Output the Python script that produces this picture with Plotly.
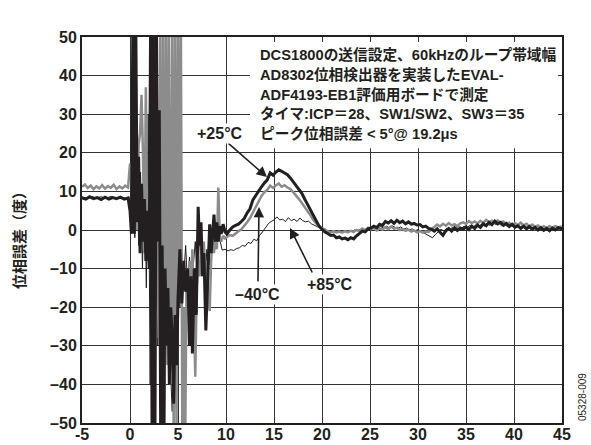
import plotly.graph_objects as go

# ---------------- data ----------------
t_25 = [-5.0, -4.6, -4.2, -3.8, -3.4, -3.0, -2.6, -2.2, -1.8, -1.4, -1.0, -0.6, -0.2, 0.0,
        0.15, 0.3, 0.45, 0.6, 0.75, 0.9, 1.05, 1.2, 1.35, 1.5, 1.65, 1.8, 2.0, 2.15, 2.3, 2.45,
        2.6, 2.75, 2.9, 3.05, 3.2, 3.35, 3.5, 3.65, 3.8, 3.95, 4.1, 4.25, 4.4, 4.55, 4.7, 4.85,
        5.0, 5.2, 5.4, 5.6, 5.8, 6.0, 6.2, 6.35, 6.5, 6.7, 6.9, 7.1, 7.25, 7.4, 7.55, 7.7, 7.9,
        8.1, 8.3, 8.45, 8.6, 8.75, 8.9, 9.05, 9.2, 9.35, 9.5, 9.7, 9.9, 10.1, 10.4, 10.7, 11.0,
        11.3, 11.6, 11.9, 12.2, 12.5, 12.8, 13.1, 13.4, 13.7, 14.0, 14.3, 14.6, 14.9, 15.2, 15.5,
        15.8, 16.1, 16.4, 16.7, 17.0, 17.3, 17.6, 17.9, 18.2, 18.5, 18.8, 19.1, 19.4, 19.7, 20.0,
        20.3, 20.6, 20.9, 21.2, 21.5, 21.8, 22.1, 22.4, 22.7, 23.0, 23.3, 23.6, 23.9, 24.2, 24.5,
        24.8, 25.1, 25.4, 25.7, 26.0, 26.3, 26.6, 26.9, 27.2, 27.5, 27.8, 28.1, 28.4, 28.7, 29.0,
        29.3, 29.6, 29.9, 30.2, 30.5, 30.8, 31.1, 31.4, 31.7, 32.0, 32.3, 32.6, 32.9, 33.2, 33.5,
        33.8, 34.1, 34.4, 34.7, 35.0, 35.3, 35.6, 35.9, 36.2, 36.5, 36.8, 37.1, 37.4, 37.7, 38.0,
        38.3, 38.6, 38.9, 39.2, 39.5, 39.8, 40.1, 40.4, 40.7, 41.0, 41.3, 41.6, 41.9, 42.2, 42.5,
        42.8, 43.1, 43.4, 43.7, 44.0, 44.3, 44.6, 45.0]
v_25 = [8.3, 8.0, 8.6, 8.1, 8.4, 7.9, 8.5, 8.0, 8.4, 8.1, 8.5, 8.0, 8.3, 5.0,
        -1, 55, -1, 55, 2, 19, -6, 12, -3, 8, -8, 5, -10, 55, -55, 55,
        -55, 55, -3, 31, -55, -4, -55, -10, -30, -15, -40, -20, -28, -45, -22, -35,
        -18, -5, -19, -8, -16, -10, -30, -12, -32, -10, -22, 6, -4, 2, -12, -6, -26,
        -14, 1.5, -6, -1, 4, -3, 2, -3, 1, -1, 1.5, -0.5, -1, 0, 0.8, 1.2,
        1.5, 2.2, 3.0, 4.4, 5.5, 7.8, 9.0, 10.2, 11.2, 12.2, 13.0, 14.8, 14.2, 15.0, 15.6,
        15.2, 14.8, 14.3, 13.5, 12.5, 11.8, 10.6, 9.5, 8.0, 6.6, 5.2, 3.9, 2.5, 1.0, 0.2,
        -0.5, -0.9, -1.4, -1.3, -2.0, -1.8, -2.3, -2.1, -2.5, -2.0, -2.3, -1.5, -0.8, -0.3, -0.5,
        0.3, 0.5, 1.0, 0.6, 1.5, 1.2, 2.2, 1.8, 2.4, 1.7, 2.5, 1.9, 2.3, 1.6, 2.1,
        1.5, 1.7, 1.3, 1.4, 0.8, 1.0, 0.4, 0.2, -0.3, 0.3, -0.6, -1.4, -0.2, 0.4, -0.3,
        0.6, -0.1, 0.5, 0.2, 0.8, 0.1, 1.0, 0.4, 1.3, 0.7, 1.6, 1.1, 2.0, 1.4, 2.3,
        1.6, 2.0, 1.2, 1.7, 0.9, 1.5, 0.7, 1.1, 0.4, 1.0, 0.3, 0.9, 0.2, 0.7, 0.0,
        0.6, -0.1, 0.4, -0.2, 0.5, 0.0, 0.6, 0.3]

t_m40 = [-5.0, -4.7, -4.4, -4.1, -3.8, -3.5, -3.2, -2.9, -2.6, -2.3, -2.0, -1.7, -1.4, -1.1, -0.8,
         -0.5, -0.2, 0.0, 0.15, 0.3, 0.45, 0.6, 0.75, 0.9, 1.05, 1.2, 1.35, 1.5, 1.65, 1.8, 1.95,
         2.1, 2.25, 2.4, 2.55, 2.7, 2.85, 3.0, 3.15, 3.3, 3.45, 3.6, 3.75, 3.9, 4.05, 4.2, 4.4,
         4.55, 4.7, 4.85, 5.0, 5.15, 5.3, 5.45, 5.6, 5.75, 5.9, 6.05, 6.2, 6.35, 6.5, 6.65, 6.8,
         6.95, 7.1, 7.25, 7.4, 7.55, 7.7, 7.85, 8.0, 8.15, 8.3, 8.45, 8.6, 8.75, 8.9, 9.05, 9.2,
         9.35, 9.5, 9.7, 9.9, 10.1, 10.4, 10.7, 11.0, 11.3, 11.6, 11.9, 12.2, 12.5, 12.8, 13.1,
         13.4, 13.7, 14.0, 14.3, 14.6, 14.9, 15.2, 15.5, 15.8, 16.1, 16.4, 16.7, 17.0, 17.3, 17.6,
         17.9, 18.2, 18.5, 18.8, 19.1, 19.4, 19.7, 20.0, 20.3, 20.6, 20.9, 21.2, 21.5, 21.8, 22.1,
         22.4, 22.7, 23.0, 23.3, 23.6, 23.9, 24.2, 24.5, 24.8, 25.1, 25.4, 25.7, 26.0, 26.3, 26.6,
         26.9, 27.2, 27.5, 27.8, 28.1, 28.4, 28.7, 29.0, 29.3, 29.6, 29.9, 30.2, 30.5, 30.8, 31.1,
         31.4, 31.7, 32.0, 32.3, 32.6, 32.9, 33.2, 33.5, 33.8, 34.1, 34.4, 34.7, 35.0, 35.3, 35.6,
         35.9, 36.2, 36.5, 36.8, 37.1, 37.4, 37.7, 38.0, 38.3, 38.6, 38.9, 39.2, 39.5, 39.8, 40.1,
         40.4, 40.7, 41.0, 41.3, 41.6, 41.9, 42.2, 42.5, 42.8, 43.1, 43.4, 43.7, 44.0, 44.3, 44.6,
         45.0]
v_m40 = [11.2, 11.8, 10.9, 11.5, 10.6, 11.3, 10.8, 11.6, 10.7, 11.4, 10.9, 11.7, 10.6, 11.3, 10.8,
         11.5, 11.0, 17.2, 12, 3, 8, 20, 0, 22, 25, 35, 20, -6, 37, -5, 10,
         -8, 14, -12, -30, 5, -15, -28, 55, -55, 55, -55, 55, -35, 55, -40, 55,
         -55, 55, -55, 55, -10, 55, -55, -20, -55, -10, -18, -8, -15, -5, -20, -38,
         -15, -8, -12, -4, -10, -3, -14, -8, -18, -21, -8, -2, -6, -1, -5, 11,
         -2, -3, -1.5, -2.2, -1.8, -1.3, -1.5, -0.8, -0.3, 0.2, 1.0, 2.0, 3.1, 4.5, 6.0,
         7.5, 8.8, 9.8, 10.4, 11.5, 10.9, 11.6, 12.0, 11.2, 11.6, 11.0, 10.6, 9.8, 9.0, 8.0,
         7.0, 6.0, 5.0, 3.8, 2.6, 1.8, 0.8, 0.5, 0.2, -0.4, -0.6, -0.3, -0.6, -0.4, -0.7,
         -0.3, -0.6, -0.2, -0.5, 0.0, -0.3, 0.4, 0.0, 0.6, 0.2, 0.5, -0.1, 0.4, 0.1, 0.7,
         0.2, 0.9, 0.3, 0.6, 0.0, 0.3, -0.2, 0.1, -0.4, -0.1, -0.6, -0.3, -0.7, -0.4, -0.5,
         0.2, 0.8, 1.4, 0.9, 1.6, 1.1, 1.8, 1.2, 1.5, 1.0, 1.7, 2.0, 1.6, 2.3, 1.8,
         2.2, 1.7, 2.4, 1.9, 2.6, 2.0, 2.4, 1.8, 2.5, 1.9, 2.2, 1.5, 1.9, 1.2, 1.8,
         1.3, 1.9, 1.2, 1.6, 0.9, 1.4, 0.8, 1.2, 0.6, 1.0, 0.5, 1.0, 0.6, 1.0, 0.7,
         0.9]

t_85 = [-5.0, -4.5, -4.0, -3.5, -3.0, -2.5, -2.0, -1.5, -1.0, -0.5, -0.1, 0.1, 0.3, 0.5, 0.7,
        0.9, 1.1, 1.3, 1.5, 1.7, 1.9, 2.1, 2.3, 2.5, 2.7, 2.9, 3.1, 3.3, 3.5, 3.7, 3.9, 4.1,
        4.4, 4.6, 4.8, 5.0, 5.2, 5.4, 5.6, 5.8, 6.0, 6.2, 6.4, 6.6, 6.8, 7.0, 7.2, 7.4, 7.6,
        7.8, 8.0, 8.2, 8.4, 8.6, 8.8, 9.0, 9.2, 9.4, 9.6, 9.9, 10.2, 10.5, 10.8, 11.1, 11.4,
        11.7, 12.0, 12.3, 12.6, 12.9, 13.2, 13.5, 13.8, 14.1, 14.4, 14.7, 15.0, 15.3, 15.6, 15.9,
        16.2, 16.5, 16.8, 17.1, 17.4, 17.7, 18.0, 18.3, 18.6, 18.9, 19.2, 19.5, 19.8, 20.1, 20.4,
        20.7, 21.0, 21.3, 21.6, 21.9, 22.2, 22.5, 22.8, 23.1, 23.4, 23.7, 24.0, 24.3, 24.6, 24.9,
        25.2, 25.5, 25.8, 26.1, 26.4, 26.7, 27.0, 27.3, 27.6, 27.9, 28.2, 28.5, 28.8, 29.1, 29.4,
        29.7, 30.0, 30.3, 30.6, 30.9, 31.2, 31.5, 31.8, 32.1, 32.4, 32.7, 33.0, 33.3, 33.6, 33.9,
        34.2, 34.5, 34.8, 35.1, 35.4, 35.7, 36.0, 36.3, 36.6, 36.9, 37.2, 37.5, 37.8, 38.1, 38.4,
        38.7, 39.0, 39.3, 39.6, 39.9, 40.2, 40.5, 40.8, 41.1, 41.4, 41.7, 42.0, 42.3, 42.6, 42.9,
        43.2, 43.5, 43.8, 44.1, 44.4, 44.7, 45.0]
v_85 = [8.6, 8.2, 8.7, 8.3, 8.6, 8.2, 8.7, 8.3, 8.6, 8.2, 8.5, 2, 40, -2, 25,
        -4, 15, -10, 20, -15, 30, -40, 50, -50, 40, -30, 20, -45, 10, -25, -5, -30,
        -47, -10, -25, -8, -20, -6, -12, -4, -15, -7, -20, -9, -3, -12, -2, -8, -4,
        -15, -5, -9, -2, -6, 0, -3, 1, -3, -5.2, -5.0, -5.4, -5.1, -5.3, -4.8, -4.6,
        -4.0, -4.2, -3.2, -3.5, -2.4, -2.8, -1.4, -0.5, 0.6, 1.6, 2.2, 2.6, 3.4, 2.6, 2.8,
        2.2, 3.2, 2.4, 2.8, 2.2, 3.1, 2.4, 2.1, 2.3, 1.6, 1.2, 0.8, 0.5, 0.3, -0.2,
        -0.4, -0.2, -0.6, -0.3, -0.6, -0.2, -0.5, -0.1, -0.4, 0.0, -0.2, 0.2, -0.1, 0.3, 0.0,
        0.4, 0.8, 0.3, 0.9, 0.5, 1.0, 0.6, 1.1, 0.7, 0.4, 0.8, 0.2, 0.5, 0.0, 0.3,
        -0.2, 0.1, -0.3, -0.6, -1.0, -1.5, -2.0, -1.2, -0.4, 0.2, -0.3, 0.5, 0.1, 0.7, 0.3,
        0.9, 0.4, 1.0, 0.6, 1.2, 0.7, 1.3, 0.8, 1.5, 1.0, 1.7, 1.2, 2.0, 1.4, 1.8,
        1.1, 1.6, 0.9, 1.4, 0.8, 1.2, 0.6, 1.0, 0.4, 0.9, 0.3, 0.8, 0.2, 0.6, 0.1,
        0.5, 0.0, 0.4, -0.1, 0.3, 0.0, 0.2]

x_ticks = [-5, 0, 5, 10, 15, 20, 25, 30, 35, 40, 45]
y_ticks = [-50, -40, -30, -20, -10, 0, 10, 20, 30, 40, 50]
y_tick_text = ["–50", "–40", "–30", "–20", "–10", "0", "10", "20", "30", "40", "50"]

note_lines = [
    "DCS1800の送信設定、60kHzのループ帯域幅",
    "AD8302位相検出器を実装したEVAL-",
    "ADF4193-EB1評価用ボードで測定",
    "タイマ:ICP＝28、SW1/SW2、SW3＝35",
    "ピーク位相誤差 < 5°@ 19.2μs",
]
y_title = "位相誤差（度）"
fig_id = "05328-009"

# ---------------- figure ----------------
INK = "#231f20"
fig = go.Figure()
fig.add_trace(go.Scatter(x=t_85, y=v_85, mode="lines", name="+85°C",
                         line=dict(color=INK, width=1)))
fig.add_trace(go.Scatter(x=t_m40, y=v_m40, mode="lines", name="−40°C",
                         line=dict(color="#8c8c8c", width=2.5)))
fig.add_trace(go.Scatter(x=t_25, y=v_25, mode="lines", name="+25°C",
                         line=dict(color=INK, width=3)))

LAT = "Liberation Sans, Arial, sans-serif"
JP = "Liberation Sans, Noto Sans CJK JP, sans-serif"

fig.update_layout(
    width=591, height=445,
    margin=dict(l=82, r=29, t=37, b=22),
    paper_bgcolor="white", plot_bgcolor="white",
    showlegend=False,
    xaxis=dict(range=[-5, 45], tickvals=x_ticks, ticktext=[str(v) for v in x_ticks],
               showgrid=True, gridcolor="#333333", gridwidth=1.3,
               showline=True, linecolor=INK, linewidth=2, mirror=True,
               zeroline=False, ticks="", automargin=False, ticklabelstandoff=-4,
               tickfont=dict(family=LAT, size=16, color=INK, weight="bold")),
    yaxis=dict(range=[-50, 50], tickvals=y_ticks, ticktext=y_tick_text,
               showgrid=True, gridcolor="#333333", gridwidth=1.3,
               showline=True, linecolor=INK, linewidth=2, mirror=True,
               zeroline=False, ticks="", automargin=False,
               tickfont=dict(family=LAT, size=16, color=INK, weight="bold")),
)

# white box behind the note text
fig.add_shape(type="rect", xref="x", yref="y", x0=12.5, x1=44.6, y0=21.2, y1=48.7,
              fillcolor="white", line=dict(width=0), layer="between")

note_y = [45.34, 40.28, 35.23, 30.18, 25.13]
for txt, yy in zip(note_lines, note_y):
    fig.add_annotation(x=13.33, y=yy, xref="x", yref="y", text=txt, showarrow=False,
                       xanchor="left", yanchor="middle",
                       font=dict(family=JP, size=14.7, color=INK, weight="bold"))

# arrows
arrows = [((14.27, 13.7), (10.1, 22.8)),
          ((13.44, 5.96), (13.33, -13.7)),
          ((16.67, 0.52), (19.06, -11.4))]
for (hx, hy), (tx, ty) in arrows:
    fig.add_annotation(x=hx, y=hy, ax=tx, ay=ty, xref="x", yref="y", axref="x", ayref="y",
                       text="", showarrow=True, arrowhead=2, arrowsize=1.3,
                       arrowwidth=1.6, arrowcolor=INK, standoff=0, startstandoff=0)

labels = [("+25°C", 9.375, 25.1), ("–40°C", 13.33, -16.8), ("+85°C", 20.83, -14.2)]
for txt, lx, ly in labels:
    fig.add_annotation(x=lx, y=ly, xref="x", yref="y", text=txt, showarrow=False,
                       bgcolor="white", borderpad=1,
                       font=dict(family=LAT, size=16, color=INK, weight="bold"))

# y-axis title
fig.add_annotation(x=(18 - 82) / 480, y=(423 - 237) / 386, xref="paper", yref="paper",
                   text=y_title, showarrow=False, textangle=-90,
                   xanchor="center", yanchor="middle",
                   font=dict(family="Noto Sans CJK JP", size=15, color=INK, weight="bold"))

# figure id
fig.add_annotation(x=(582 - 82) / 480, y=(423 - 397) / 386, xref="paper", yref="paper",
                   text=fig_id, showarrow=False, textangle=-90,
                   xanchor="center", yanchor="middle",
                   font=dict(family=LAT, size=10, color=INK))

fig.write_html("out.html", config={"displayModeBar": False},
               post_script="document.body.style.margin='0';document.body.style.overflow='hidden';")
